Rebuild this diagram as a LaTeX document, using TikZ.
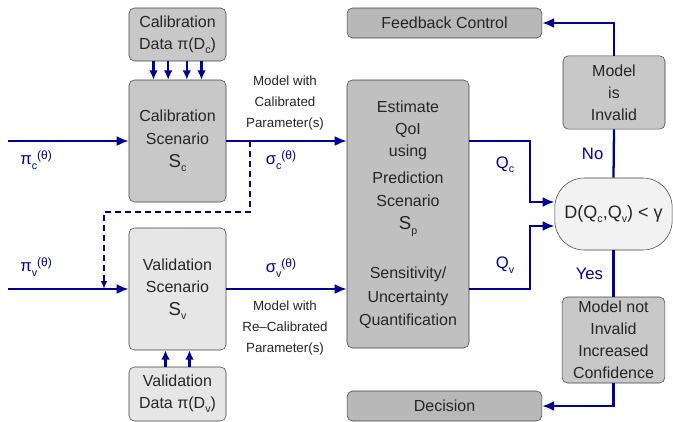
\documentclass[tikz,border=0pt]{standalone}
\usepackage{fontspec}
\setmainfont{Liberation Sans}
\usepackage{xcolor}
\usepackage{tikz}
\usetikzlibrary{
	positioning,						% Relative positioning
	arrows.meta							% Arrow tips
}
\definecolor{flow}{RGB}{0, 0, 150}
\definecolor{calib-gray}{RGB}{200, 200, 200}
\definecolor{valid-gray}{RGB}{230, 230, 230}
\definecolor{estim-gray}{RGB}{192, 192, 192}
\definecolor{out-gray}{RGB}{184, 184, 184}
\definecolor{test-gray}{RGB}{242, 242, 242}
\newcommand{\lsub}[1]{\raisebox{-0.5ex}{\footnotesize #1}}
\newcommand{\lsup}[1]{\raisebox{0.6ex}{\small #1}}
\newcommand{\bigS}[1]{{\fontsize{14}{16.5}\selectfont S}\lsub{#1}}

\begin{document}
\begin{tikzpicture}[x=0.75pt, y=-0.75pt]
		\tikzstyle{box} = [draw=black!75, rounded corners=4pt, align=center, text=black!85, font=\fontsize{12}{16.5}\selectfont, inner sep=0pt]
		\tikzstyle{flowline} = [draw=flow, line width=1.7pt]
		\tikzstyle{arr} = [flowline, -{Latex[length=9pt, width=7.5pt]}]
		\tikzstyle{lbl} = [text=flow, font=\fontsize{12.5}{14}\selectfont, inner sep=1pt]
		\tikzstyle{note} = [align=center, text=black!85, font=\fontsize{10}{16}\selectfont]
		\useasboundingbox (0,0) rectangle (673,421);
		
		% Calibration
		\node[box, fill=calib-gray, minimum width=72.75pt, minimum height=39.75pt] at (177.5, 34.5) (calData) {Calibration\\Data π(D\lsub{c})};
		\node[box, fill=calib-gray, minimum width=72.75pt, minimum height=91.5pt, font=\fontsize{12}{17}\selectfont] at (177.5, 141) (calScen) {Calibration\\Scenario\\\bigS{c}};
		\foreach \dx in {-18, -7, 7, 18}{
			\draw[arr, -{Latex[length=7pt, width=6.5pt]}] ([xshift=\dx pt]calData.south) to ([xshift=\dx pt]calScen.north);
		}
		
		% Validation
		\node[box, fill=valid-gray, minimum width=72.75pt, minimum height=91.5pt, font=\fontsize{12}{17}\selectfont] at (177.5, 289) (valScen) {Validation\\Scenario\\\bigS{v}};
		\node[box, fill=valid-gray, minimum width=72.75pt, minimum height=40.5pt] at (177.5, 394) (valData) {Validation\\Data π(D\lsub{v})};
		\foreach \dx in {-9, 9}{
			\draw[arr, -{Latex[length=7pt, width=6.5pt]}] ([xshift=\dx pt]valData.north) to ([xshift=\dx pt]valScen.south);
		}
		
		% Estimation of QoI
		\node[box, fill=estim-gray, minimum width=91.5pt, minimum height=201pt] at (408, 214) (estim) {};
		\node[note, font=\fontsize{12}{16.5}\selectfont] at (408, 130) (estimA) {Estimate\\QoI\\using};
		\node[note, font=\fontsize{12}{17.5}\selectfont] at (408, 204) (estimB) {Prediction\\Scenario\\\bigS{p}};
		\node[note, font=\fontsize{12}{17.5}\selectfont] at (408, 298) (estimC) {Sensitivity/\\Uncertainty\\Quantification};
		
		% Validation test and outcomes
		\node[box, fill=test-gray, rounded corners=22pt, minimum width=88pt, minimum height=54pt, font=\fontsize{13.5}{16}\selectfont] at (613.5, 214) (test) {D(Q\lsub{c},Q\lsub{v}) < γ};
		\node[box, fill=calib-gray, minimum width=76.5pt, minimum height=55pt] at (614, 92.5) (invalid) {Model\\is\\Invalid};
		\node[box, fill=calib-gray, minimum width=77pt, minimum height=64.5pt] at (613.5, 340) (notInvalid) {Model not\\Invalid\\Increased\\Confidence};
		\node[box, fill=out-gray, minimum width=146pt, minimum height=22.5pt] at (444.5, 23) (feedback) {Feedback Control};
		\node[box, fill=out-gray, minimum width=146pt, minimum height=22.5pt] at (444.5, 406) (decision) {Decision};
		
		%% Inputs
		\coordinate (inCal) at (8, 141);
		\coordinate (inVal) at (8, 289);
		\draw[arr] (inCal) to (calScen.west);
		\draw[arr] (inVal) to (valScen.west);
		\node[lbl] at (36, 160) (piCal) {π\lsub{c}\lsup{(θ)}};
		\node[lbl] at (36, 267) (piVal) {π\lsub{v}\lsup{(θ)}};
		
		%% Scenarios to estimation
		\draw[arr] (calScen.east) to (calScen.east -| estim.west);
		\draw[arr] (valScen.east) to (valScen.east -| estim.west);
		\node[lbl] at (281, 160) (sigCal) {σ\lsub{c}\lsup{(θ)}};
		\node[lbl] at (281, 268) (sigVal) {σ\lsub{v}\lsup{(θ)}};
		\node[note] at (285, 103) (modelCal) {Model with\\Calibrated\\Parameter(s)};
		\node[note] at (285, 328) (modelVal) {Model with\\Re–Calibrated\\Parameter(s)};
		
		%% Re-calibration feedback (dashed)
		\coordinate (split) at (250, 141);
		\coordinate (merge) at (104, 289);
		\draw[flowline, line width=1.4pt, dash pattern=on 4.5pt off 3pt, -{Latex[length=6pt, width=5pt]}] (split) -- ++(0, 71) -| (merge);
		
		%% Quantities of interest
		\draw[arr] (estim.east |- calScen.east) -- ++(61, 0) |- ([yshift=9pt]test.west);
		\draw[arr] (estim.east |- valScen.east) -- ++(61, 0) |- ([yshift=-9pt]test.west);
		\node[lbl] at (505, 165) (qCal) {Q\lsub{c}};
		\node[lbl] at (505, 265) (qVal) {Q\lsub{v}};
		
		%% Outcomes
		\draw[flowline] (invalid.south) to node[lbl, midway, left=6pt] (no) {No} (test.north);
		\draw[flowline] (test.south) to node[lbl, midway, left=6pt] (yes) {Yes} (notInvalid.north);
		\draw[arr] (invalid.north) |- (feedback.east);
		\draw[arr] (notInvalid.south) |- (decision.east);
	\end{tikzpicture}
\end{document}
